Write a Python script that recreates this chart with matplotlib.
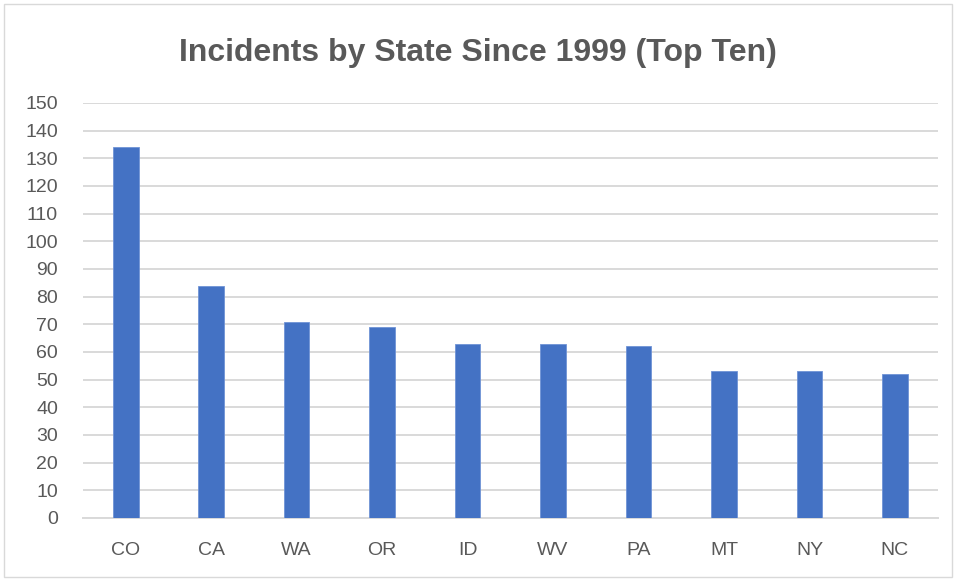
import matplotlib
matplotlib.use("Agg")
import matplotlib.pyplot as plt
from matplotlib.patches import Rectangle

states = ["CO", "CA", "WA", "OR", "ID", "WV", "PA", "MT", "NY", "NC"]
incidents = [134, 84, 71, 69, 63, 63, 62, 53, 53, 52]
yticks = list(range(0, 151, 10))
title = "Incidents by State Since 1999 (Top Ten)"

plt.rcParams['font.family'] = ['Liberation Sans', 'DejaVu Sans']

fig = plt.figure(figsize=(9.56, 5.79), dpi=100)
ax = fig.add_axes([0.0868, 0.1054, 0.894, 0.7168])

x = range(len(states))
ax.bar(x, incidents, width=0.3, color="#4472C4", edgecolor="#6f93d6", linewidth=0.6, zorder=3)
ax.set_xlim(-0.5, len(states) - 0.5)
ax.set_ylim(0, 150)
ax.set_yticks(yticks)
ax.set_xticks(list(x))
ax.set_xticklabels(states)
ax.tick_params(axis='both', length=0, labelsize=14, colors="#595959")
ax.tick_params(axis='x', pad=17)
ax.tick_params(axis='y', pad=18)
ax.yaxis.grid(True, color="#d9d9d9", linewidth=1.4, zorder=0)
ax.set_axisbelow(True)
for s in ["top", "right", "left"]:
    ax.spines[s].set_visible(False)
ax.spines["bottom"].set_color("#d9d9d9")
ax.spines["bottom"].set_linewidth(1.4)

fig.text(0.5, 0.908, title, ha="center", va="center", fontsize=23, fontweight="bold", color="#595959")

fig.patches.append(Rectangle((0.004, 0.003), 0.992, 0.99, transform=fig.transFigure,
                             fill=False, edgecolor="#d9d9d9", linewidth=1.0))

fig.savefig("out.png", dpi=100, facecolor="white")
